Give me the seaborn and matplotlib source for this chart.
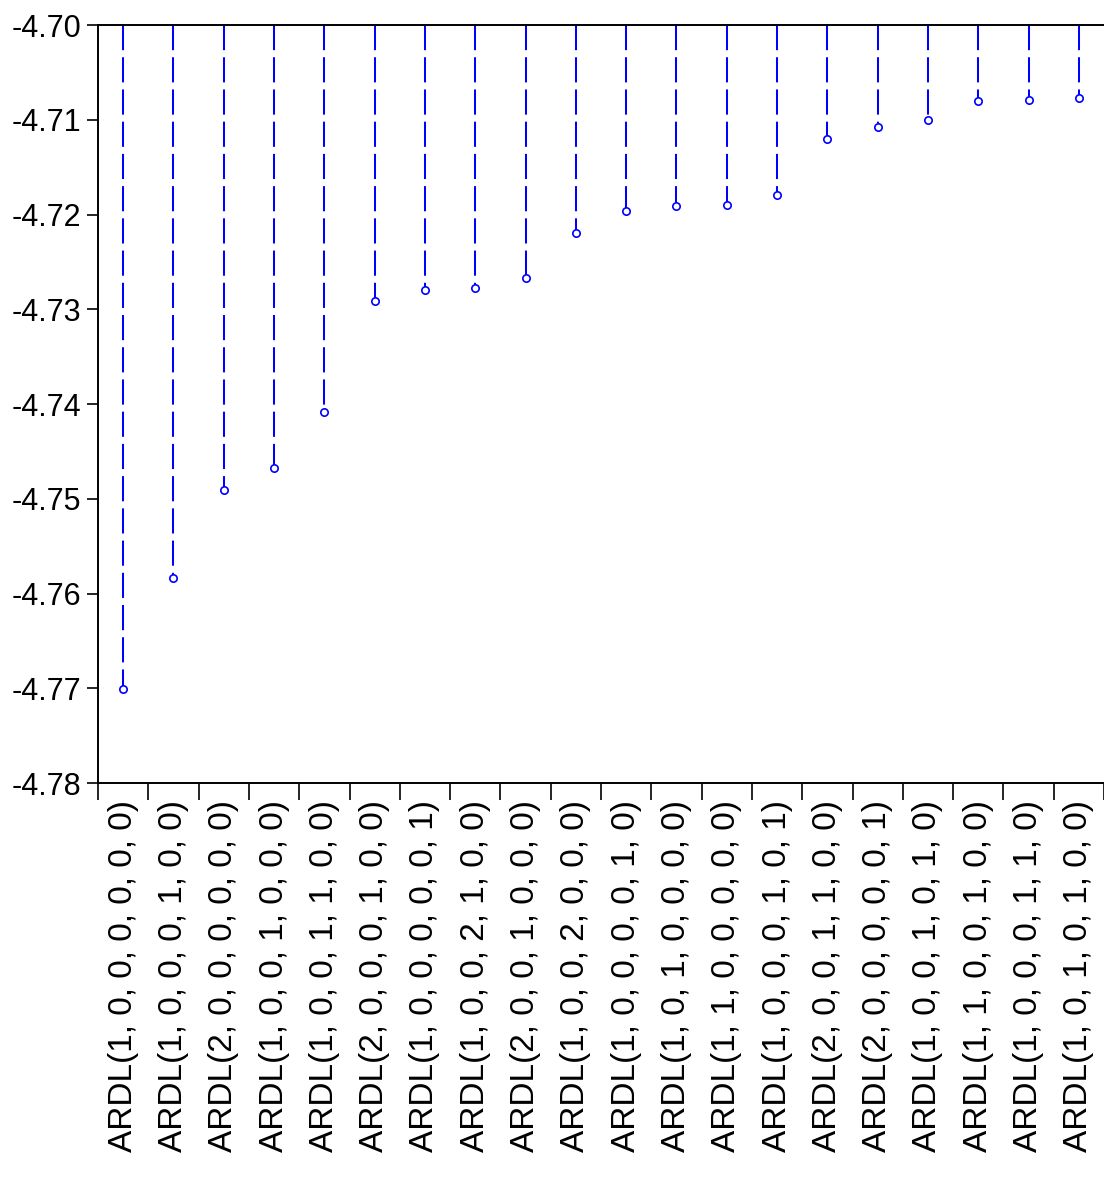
import numpy as np
import pandas as pd
import matplotlib
matplotlib.use("Agg")
import matplotlib.pyplot as plt
import seaborn as sns

# model labels and criterion values
models = [
    "ARDL(1, 0, 0, 0, 0, 0, 0)",
    "ARDL(1, 0, 0, 0, 1, 0, 0)",
    "ARDL(2, 0, 0, 0, 0, 0, 0)",
    "ARDL(1, 0, 0, 1, 0, 0, 0)",
    "ARDL(1, 0, 0, 1, 1, 0, 0)",
    "ARDL(2, 0, 0, 0, 1, 0, 0)",
    "ARDL(1, 0, 0, 0, 0, 0, 1)",
    "ARDL(1, 0, 0, 2, 1, 0, 0)",
    "ARDL(2, 0, 0, 1, 0, 0, 0)",
    "ARDL(1, 0, 0, 2, 0, 0, 0)",
    "ARDL(1, 0, 0, 0, 0, 1, 0)",
    "ARDL(1, 0, 1, 0, 0, 0, 0)",
    "ARDL(1, 1, 0, 0, 0, 0, 0)",
    "ARDL(1, 0, 0, 0, 1, 0, 1)",
    "ARDL(2, 0, 0, 1, 1, 0, 0)",
    "ARDL(2, 0, 0, 0, 0, 0, 1)",
    "ARDL(1, 0, 0, 1, 0, 1, 0)",
    "ARDL(1, 1, 0, 0, 1, 0, 0)",
    "ARDL(1, 0, 0, 0, 1, 1, 0)",
    "ARDL(1, 0, 1, 0, 1, 0, 0)",
]
values = [
    -4.7701, -4.7584, -4.7491, -4.7468, -4.7408,
    -4.7291, -4.7280, -4.7278, -4.7267, -4.7219,
    -4.7196, -4.7191, -4.7190, -4.7179, -4.7120,
    -4.7108, -4.7100, -4.7080, -4.7079, -4.7077,
]
y_ticks = [-4.70, -4.71, -4.72, -4.73, -4.74, -4.75, -4.76, -4.77, -4.78]

df = pd.DataFrame({"model": models, "value": values})
df["pos"] = np.arange(len(df))

sns.set_style("white")
plt.rcParams["font.family"] = ["Liberation Sans", "DejaVu Sans"]
plt.rcParams["text.color"] = "black"
plt.rcParams["xtick.color"] = "black"
plt.rcParams["ytick.color"] = "black"

fig = plt.figure(figsize=(11.04, 11.86), dpi=100)
ax = fig.add_axes([98 / 1104, 1 - 783 / 1186, 1 - 98 / 1104, (783 - 25) / 1186])

# dashed stems hanging from the top of the axis
ax.vlines(df["pos"], -4.70, df["value"], colors="#0000ff",
          linestyles=(0, (12.5, 3.5)), linewidth=1.45, zorder=2)
sns.scatterplot(data=df, x="pos", y="value", ax=ax, marker="o", s=28,
                facecolor="white", edgecolor="#0000ff", linewidth=1.2, zorder=3)

ax.set_xlim(-0.5, len(df) - 0.5)
ax.set_ylim(-4.78, -4.70)
ax.set_yticks(y_ticks)
ax.set_yticklabels([f"{t:.2f}" for t in y_ticks], fontsize=22)

# ticks on the category boundaries, labels on the centres
ax.set_xticks(np.arange(len(df) + 1) - 0.5)
ax.set_xticklabels([])
ax.set_xticks(df["pos"], minor=True)
ax.set_xticklabels(df["model"], minor=True, rotation=90, fontsize=24, va="top")
ax.tick_params(axis="x", which="major", bottom=True, direction="out",
               length=12, width=1.2, color="black")
ax.tick_params(axis="x", which="minor", bottom=True, length=0, pad=12)
ax.tick_params(axis="y", left=True, direction="out", length=8, width=1.2,
               color="black", pad=4)

ax.set_xlabel("")
ax.set_ylabel("")
for side in ["left", "bottom", "top"]:
    ax.spines[side].set_visible(True)
    ax.spines[side].set_color("black")
    ax.spines[side].set_linewidth(1.4)
ax.spines["right"].set_visible(False)

fig.savefig("out.png", dpi=100)
